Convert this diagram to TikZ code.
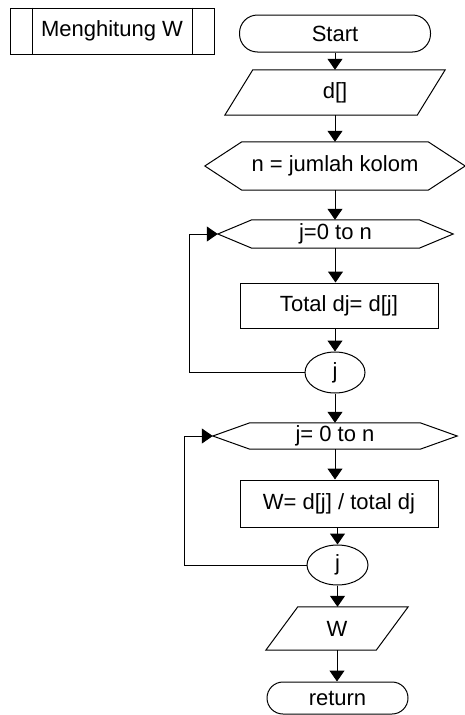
\documentclass[tikz,border=0pt]{standalone}
\usepackage{fontspec}
\setmainfont{Liberation Sans}
\usetikzlibrary{arrows.meta,shapes.geometric}
\begin{document}
\begin{tikzpicture}[x=1pt,y=-1pt,
  every node/.style={font=\fontsize{22}{26}\selectfont, inner sep=0pt},
  frame/.style 2 args={minimum width=#1, minimum height=#2},
  boxed/.style={draw, line width=1pt},
  term/.style={draw, line width=1pt, rounded corners=#1},
  oval/.style={draw, line width=1pt, ellipse},
  outline/.style={draw, line width=1pt, line join=miter},
  flow/.style={draw, line width=1pt, -{Triangle[width=15pt,length=11pt]}}]
\useasboundingbox (0,0) rectangle (465,715);

% predefined process
\node[boxed, frame={204pt}{46pt}] (pp) at (112,31) {Menghitung W};
\draw[outline] ([xshift=23pt]pp.north west) -- ([xshift=23pt]pp.south west);
\draw[outline] ([xshift=-22pt]pp.north east) -- ([xshift=-22pt]pp.south east);

% start
\node[term=18pt, frame={191pt}{37pt}] (start) at (335,33.5) {Start};

% d[]
\node[frame={192pt}{45pt}] (din) at (335,92.5) {d[]};
\draw[outline] ([xshift=14pt]din.north west) -- ([xshift=14pt]din.north east) -- ([xshift=-14pt]din.south east) -- ([xshift=-14pt]din.south west) -- cycle;

% hexagon n
\node[frame={260pt}{48pt}] (hexn) at (335,166) {n = jumlah kolom};
\draw[outline] (hexn.west) -- ([xshift=37pt]hexn.north west) -- ([xshift=-37pt]hexn.north east) -- (hexn.east) -- ([xshift=-37pt]hexn.south east) -- ([xshift=37pt]hexn.south west) -- cycle;

% hexagon loop 1
\node[frame={235pt}{28pt}] (loopa) at (335.5,234) {j=0 to n};
\draw[outline] (loopa.west) -- ([xshift=34pt]loopa.north west) -- ([xshift=-34pt]loopa.north east) -- (loopa.east) -- ([xshift=-34pt]loopa.south east) -- ([xshift=34pt]loopa.south west) -- cycle;

% box total
\node[boxed, frame={198pt}{45pt}] (total) at (339,305.5) {Total dj= d[j]};

% connector j1
\node[oval, frame={60pt}{41pt}] (ja) at (335,372.5) {j};

% hexagon loop 2
\node[frame={244pt}{26pt}] (loopb) at (335,436) {j= 0 to n};
\draw[outline] (loopb.west) -- ([xshift=37pt]loopb.north west) -- ([xshift=-37pt]loopb.north east) -- (loopb.east) -- ([xshift=-37pt]loopb.south east) -- ([xshift=37pt]loopb.south west) -- cycle;

% box W
\node[boxed, frame={198pt}{47pt}] (wcalc) at (339,503.5) {W= d[j] / total dj};

% connector j2
\node[oval, frame={61pt}{40pt}] (jb) at (337.5,565) {j};

% output W
\node[frame={110pt}{43pt}] (wout) at (337,628.5) {W};
\draw[outline] ([xshift=16pt]wout.north west) -- ([xshift=16pt]wout.north east) -- ([xshift=-16pt]wout.south east) -- ([xshift=-16pt]wout.south west) -- cycle;

% return
\node[term=16pt, frame={141pt}{32pt}] (ret) at (337.5,698) {return};

% flow arrows
\draw[flow] (start.south) -- (din.north);
\draw[flow] (din.south) -- (din.south |- hexn.north);
\draw[flow] (hexn.south) -- (hexn.south |- loopa.north);
\draw[flow] (loopa.south) -- (loopa.south |- total.north);
\draw[flow] (ja.north |- total.south) -- (ja.north);
\draw[flow] (ja.south) -- (ja.south |- loopb.north);
\draw[flow] (loopb.south) -- (loopb.south |- wcalc.north);
\draw[flow] (jb.north |- wcalc.south) -- (jb.north);
\draw[flow] (jb.south) -- (jb.south |- wout.north);
\draw[flow] (wout.south) -- (wout.south |- ret.north);

% loop-back lines
\draw[flow] (ja.west) -- ++(-115,0) |- (loopa.west);
\draw[flow] (jb.west) -- ++(-122,0) |- (loopb.west);
\end{tikzpicture}
\end{document}
